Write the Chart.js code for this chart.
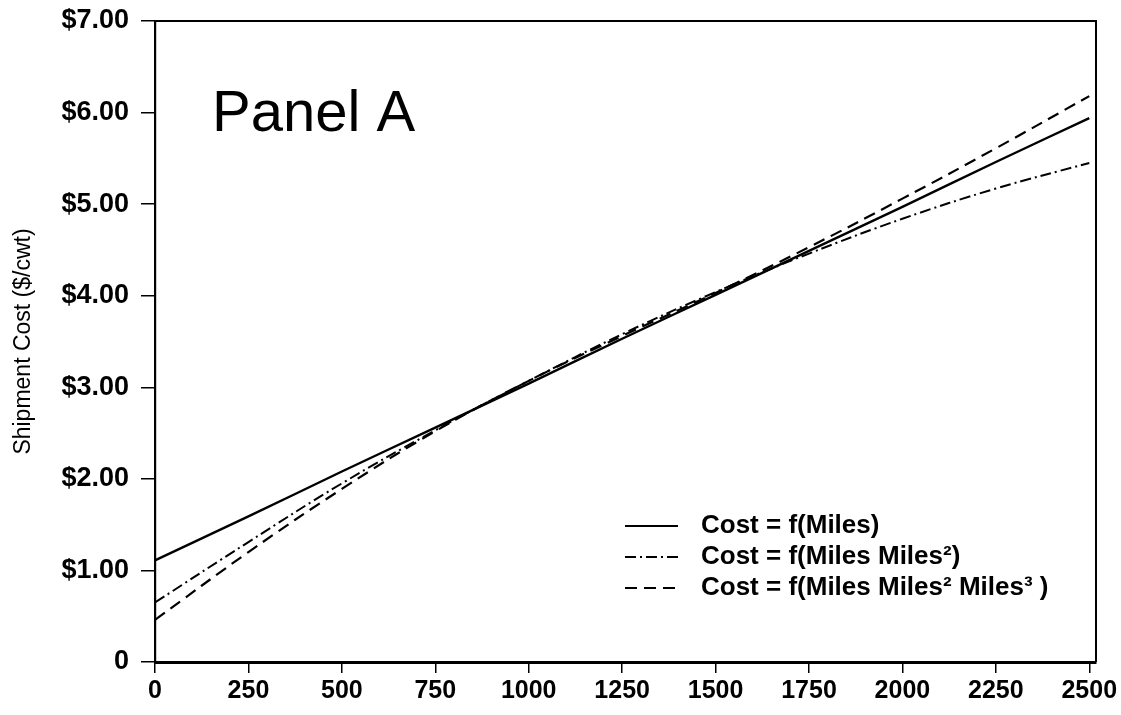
<!DOCTYPE html>
<html>
<head>
<meta charset="utf-8">
<script src="https://cdn.jsdelivr.net/npm/chart.js@4.4.0/dist/chart.umd.min.js"></script>
<style>
    html, body { margin: 0; background: #fff; }
    #wrap { width: 1121px; height: 715px; }
</style>
</head>
<body>
<div id="wrap"><canvas id="chart"></canvas></div>
<script>
// values
const miles      = [0, 250, 500, 750, 1000, 1250, 1500, 1750, 2000, 2250, 2500]
const costLinear = [1.11, 1.59, 2.08, 2.56, 3.04, 3.53, 4.01, 4.49, 4.97, 5.46, 5.94]
const costQuad   = [0.65, 1.31, 1.95, 2.53, 3.07, 3.58, 4.04, 4.46, 4.84, 5.17, 5.45]
const costCubic  = [0.46, 1.20, 1.89, 2.52, 3.07, 3.56, 4.03, 4.53, 5.06, 5.61, 6.18]
const seriesNames = ['Cost = f(Miles)', 'Cost = f(Miles Miles\u00B2)', 'Cost = f(Miles Miles\u00B2 Miles\u00B3 )']
const xTicks = [0, 250, 500, 750, 1000, 1250, 1500, 1750, 2000, 2250, 2500]
const yTicks = [0, 1, 2, 3, 4, 5, 6, 7]

const dashes = [[], [11, 4, 2, 4], [12, 7]]
const widths = [2.4, 2, 2.2]
const FONT = '"Liberation Sans", Arial, sans-serif'

function pts(vals) {
    return miles.map((m, i) => ({ x: m, y: vals[i] }))
}

// top / right frame, panel label and the legend
const extras = {
    id: 'extras',
    afterDraw(chart) {
        const ctx = chart.ctx
        const a = chart.chartArea
        ctx.save()
        ctx.strokeStyle = '#000'
        ctx.lineWidth = 2
        ctx.beginPath()
        ctx.moveTo(a.left, a.top)
        ctx.lineTo(a.right, a.top)
        ctx.lineTo(a.right, a.bottom)
        ctx.stroke()

        ctx.fillStyle = '#000'
        ctx.font = '58px ' + FONT
        ctx.textBaseline = 'alphabetic'
        ctx.fillText('Panel A', 212, 131)

        ctx.font = 'bold 26px ' + FONT
        ctx.textBaseline = 'middle'
        const rowY = [526, 557, 588]
        seriesNames.forEach((name, i) => {
            ctx.setLineDash(dashes[i])
            ctx.lineWidth = 2
            ctx.beginPath()
            ctx.moveTo(625, rowY[i])
            ctx.lineTo(678, rowY[i])
            ctx.stroke()
            ctx.setLineDash([])
            ctx.fillText(name, 701, rowY[i])
        })
        ctx.restore()
    }
}

const ctx = document.getElementById('chart')
const myChart = new Chart(ctx, {
    type: 'line',
    data: {
        datasets: [costLinear, costQuad, costCubic].map((vals, i) => ({
            label: seriesNames[i],
            data: pts(vals),
            borderColor: '#000',
            borderWidth: widths[i],
            borderDash: dashes[i],
            pointRadius: 0,
            tension: 0.4,
            fill: false
        }))
    },
    options: {
        responsive: true,
        maintainAspectRatio: false,
        animation: false,
        layout: { padding: { top: 21, right: 25, left: 10 } },
        plugins: {
            legend: { display: false },
            tooltip: { enabled: false }
        },
        scales: {
            x: {
                type: 'linear',
                min: 0,
                max: 2518,
                afterFit: s => { s.height = 53; s.paddingLeft = 0; s.paddingRight = 0 },
                afterBuildTicks: s => { s.ticks = xTicks.map(v => ({ value: v })) },
                grid: { drawOnChartArea: false, color: '#000', tickLength: 11, lineWidth: 1.5 },
                border: { color: '#000', width: 3 },
                ticks: {
                    color: '#000',
                    padding: 3,
                    maxRotation: 0,
                    autoSkip: false,
                    callback: v => String(v),
                    font: { family: FONT, size: 25, weight: 'bold' }
                }
            },
            y: {
                min: 0,
                max: 7,
                afterFit: s => { s.width = 145; s.paddingTop = 0; s.paddingBottom = 0 },
                afterBuildTicks: s => { s.ticks = yTicks.map(v => ({ value: v })) },
                grid: { drawOnChartArea: false, color: '#000', tickLength: 14, lineWidth: 1.5 },
                border: { color: '#000', width: 2.2 },
                title: {
                    display: true,
                    text: 'Shipment Cost ($/cwt)',
                    color: '#000',
                    padding: 0,
                    font: { family: FONT, size: 23 }
                },
                ticks: {
                    color: '#000',
                    padding: 12,
                    callback: v => v === 0 ? '0' : '$' + v.toFixed(2),
                    font: { family: FONT, size: 27, weight: 'bold' }
                }
            }
        }
    },
    plugins: [extras]
})
</script>
</body>
</html>
